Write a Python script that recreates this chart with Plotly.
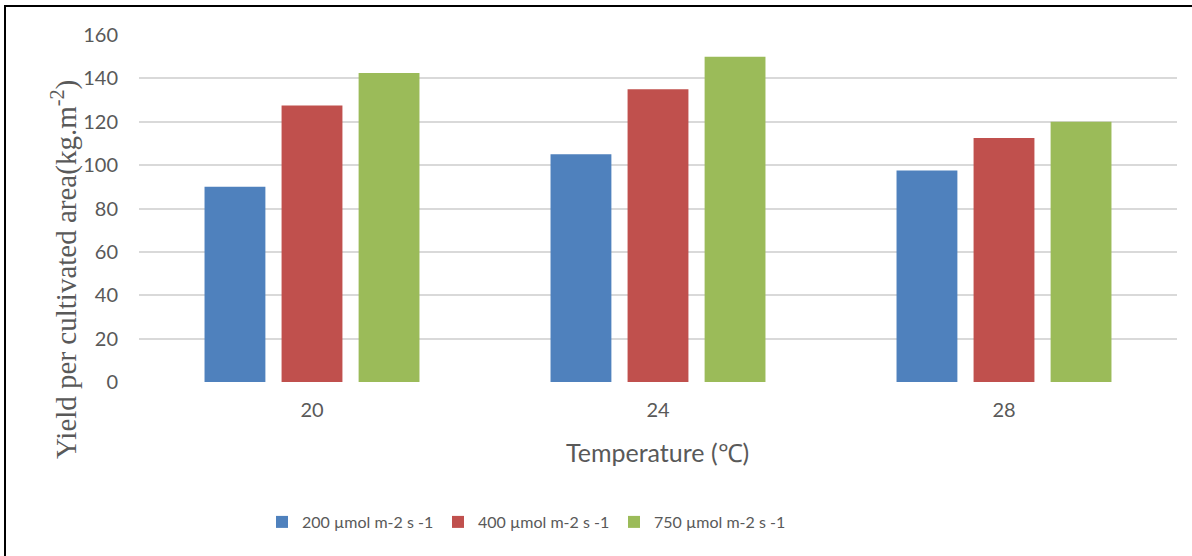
import plotly.graph_objects as go

categories = ["20", "24", "28"]
series_names = ["200 µmol m-2 s -1", "400 µmol m-2 s -1", "750 µmol m-2 s -1"]
values_200 = [90, 105, 97.5]
values_400 = [127.5, 135, 112.5]
values_750 = [142.5, 150, 120]
colors = ["#4f81bd", "#c0504d", "#9bbb59"]
y_ticks = [0, 20, 40, 60, 80, 100, 120, 140, 160]

W, H = 1192, 556
L, R, T, B = 139, 15, 35, 174
pw, ph = W - L - R, H - T - B

def px_x(x):
    return (x - L) / pw

def px_y(y):
    return (H - B - y) / ph

fig = go.Figure()
for name, vals, col in zip(series_names, [values_200, values_400, values_750], colors):
    fig.add_trace(go.Bar(x=categories, y=vals, name=name, marker=dict(color=col, line=dict(width=0))))

tick_font = dict(family="Lato, Carlito, Open Sans, sans-serif", size=20, color="#595959")

fig.update_layout(
    width=W, height=H,
    margin=dict(l=L, r=R, t=T, b=B, pad=0),
    paper_bgcolor="white", plot_bgcolor="white",
    barmode="group", bargap=0.332, bargroupgap=0.21,
    xaxis=dict(type="category", showgrid=False, showline=False, ticks="",
               tickfont=tick_font, ticklabelstandoff=14, zeroline=False),
    yaxis=dict(range=[0, 160], tickvals=y_ticks, showgrid=True, gridcolor="#d9d9d9",
               gridwidth=2, zeroline=False, showline=False, ticks="",
               tickfont=tick_font, ticklabelstandoff=20),
    showlegend=True,
    legend=dict(orientation="h", x=px_x(262), xanchor="left", y=px_y(522), yanchor="middle",
                font=dict(family="Lato, Carlito, Open Sans, sans-serif", size=16, color="#595959"),
                itemwidth=30, entrywidth=131, entrywidthmode="pixels", traceorder="normal",
                bgcolor="rgba(0,0,0,0)"),
    annotations=[
        dict(text="Yield per cultivated area(kg.m<sup>-2</sup>)", textangle=-90,
             xref="paper", yref="paper", x=px_x(64), y=px_y(270), xanchor="center", yanchor="middle",
             showarrow=False, font=dict(family="Liberation Serif, Times New Roman, serif", size=29, color="#595959")),
        dict(text="Temperature (℃)", xref="paper", yref="paper", x=px_x(657), y=px_y(452),
             xanchor="center", yanchor="middle", showarrow=False,
             font=dict(family="Lato, Carlito, Open Sans, sans-serif", size=25, color="#595959")),
    ],
    shapes=[
        dict(type="line", xref="paper", yref="paper", x0=px_x(5), x1=px_x(5), y0=px_y(5), y1=px_y(H),
             line=dict(color="black", width=2)),
        dict(type="line", xref="paper", yref="paper", x0=px_x(4), x1=px_x(W), y0=px_y(6), y1=px_y(6),
             line=dict(color="black", width=2)),
    ],
)

fig.write_html("out.html")
